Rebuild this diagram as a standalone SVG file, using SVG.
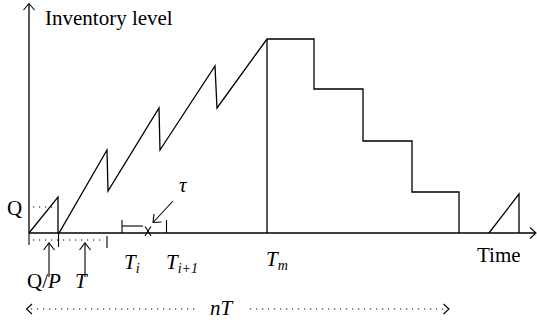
<svg xmlns="http://www.w3.org/2000/svg" width="537" height="326" viewBox="0 0 537 326" font-family="'Liberation Serif', 'DejaVu Serif', serif">
<style>
.ln{fill:none;stroke:#000;stroke-width:1.3;stroke-linejoin:miter}
.th{fill:none;stroke:#000;stroke-width:1.1}
.dot{fill:none;stroke:#000;stroke-width:1.2;stroke-dasharray:1.2 4.8}
.t{font-family:'Liberation Serif','DejaVu Serif',serif;font-size:21px;fill:#000}
.it{font-style:italic}
.sub{font-size:14px;font-style:italic}
</style>
<rect width="537" height="326" fill="#fff"/>
<g id="axes">
<line class="ln" x1="29" y1="233" x2="29" y2="4"/>
<polyline class="th" points="23.5,10 29,3.5 34.5,10"/>
<line class="ln" x1="29" y1="233" x2="535" y2="233"/>
<polyline class="th" points="530,227.5 536,233 530,238.5"/>
<text class="t" x="45" y="25">Inventory level</text>
<text class="t" x="477" y="262">Time</text>
</g>
<g id="inventory-curve">
<polyline class="ln" points="29,233 58,197 58,233 59,233 107,150 108,191 159,108 160,150 215,66 217,108 267,39 314,39 314,89 363,89 363,141 412,141 412,192 459,192 459,233"/>
<line class="ln" x1="267" y1="39" x2="267" y2="233"/>
<polyline class="ln" points="489,233 519,194 519,233"/>
</g>
<g id="Q-mark">
<text class="t" x="7" y="215">Q</text>
<line class="dot" x1="33" y1="207" x2="54" y2="207"/>
</g>
<g id="QP-T-marks">
<line class="th" x1="29" y1="233" x2="29" y2="245"/>
<line class="th" x1="58.5" y1="233" x2="58.5" y2="247"/>
<line class="th" x1="107" y1="236" x2="107" y2="248"/>
<line class="dot" x1="33" y1="240" x2="104" y2="240"/>
<line class="th" x1="49" y1="243" x2="49" y2="277"/>
<polyline class="th" points="43.5,250 49,243 54.5,250"/>
<line class="th" x1="85" y1="243" x2="85" y2="277"/>
<polyline class="th" points="79.5,250 85,243 90.5,250"/>
<text class="t" x="27" y="288">Q/<tspan class="it">P</tspan></text>
<text class="t it" x="75" y="288">T</text>
</g>
<g id="tau-mark">
<line class="th" x1="122" y1="220" x2="122" y2="233"/>
<line class="th" x1="122" y1="226" x2="143" y2="226"/>
<polyline class="th" points="145,226.5 148,231 151,226.5"/>
<polyline class="th" points="145,236 148,231 151,236"/>
<line class="th" x1="166.5" y1="220" x2="166.5" y2="233"/>
<line class="th" x1="173" y1="201" x2="153.5" y2="222"/>
<polyline class="th" points="154,214 153,222.5 161.5,222"/>
<text class="t it" x="179" y="192">τ</text>
</g>
<g id="time-labels">
<text class="t it" x="124" y="269">T<tspan class="sub" dy="4">i</tspan></text>
<text class="t it" x="166" y="269">T<tspan class="sub" dy="4">i+1</tspan></text>
<text class="t it" x="266" y="266">T<tspan class="sub" dy="4">m</tspan></text>
</g>
<g id="nT-span">
<line class="dot" x1="31" y1="309" x2="197" y2="309"/>
<polyline class="th" points="32,304 26.5,309 32,314"/>
<text class="t it" x="210" y="315">nT</text>
<line class="dot" x1="250" y1="309" x2="446" y2="309"/>
<polyline class="th" points="443.5,304 449,309 443.5,314"/>
</g>
</svg>
